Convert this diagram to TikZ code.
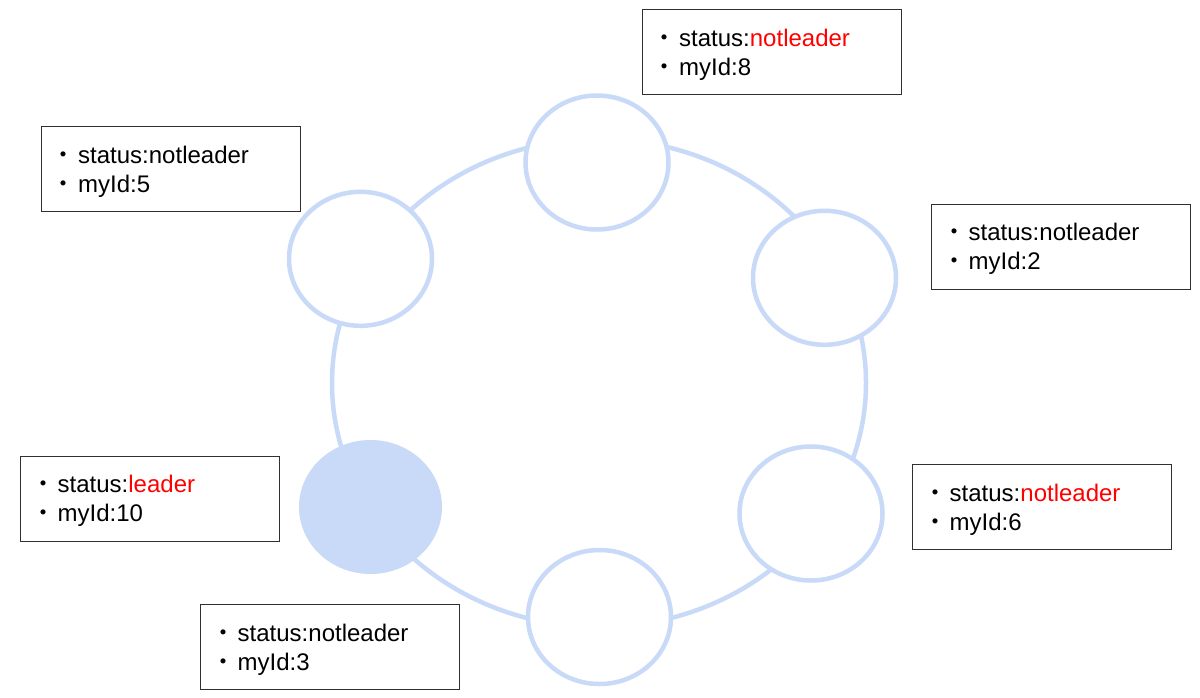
\documentclass[tikz,border=0pt]{standalone}
\usepackage{fontspec}
\setmainfont{Liberation Sans}
\newfontfamily\cjkfont{Noto Sans CJK JP}
\usetikzlibrary{shapes.geometric}
\definecolor{ringblue}{HTML}{C9DAF8}
\definecolor{hlred}{HTML}{FF0000}
\definecolor{boxline}{HTML}{303030}
\newcommand\bul{{\cjkfont ・}\kern2.5pt}
\tikzset{
  ring/.style={draw=ringblue, line width=4.5pt},
  member/.style={ellipse, draw=ringblue, line width=4.5pt, fill=white,
    minimum width=143pt, minimum height=134pt, inner sep=0pt},
  leadernode/.style={ellipse, fill=ringblue, draw=none,
    minimum width=143pt, minimum height=134pt, inner sep=0pt},
  infobox/.style={draw=boxline, line width=1.3pt, anchor=north west,
    minimum width=259pt, minimum height=85pt, inner sep=0pt},
  infotext/.style={anchor=base west, inner sep=0pt,
    font=\fontsize{24}{29}\selectfont, text=black},
}
\newcommand\infobox[5]{%
  \node[infobox] (#1) at (#2,#3) {};
  \node[infotext] (#1a) at ([xshift=11pt,yshift=-37pt]#1.north west) {\bul status:#4};
  \node[infotext] (#1b) at ([xshift=11pt,yshift=-66pt]#1.north west) {\bul myId:#5};
}
\begin{document}
\begin{tikzpicture}[x=1pt,y=-1pt]
\useasboundingbox (0,0) rectangle (1200,697);
\fill[white] (0,0) rectangle (1200,697);
% ring
\coordinate (c) at (599,383);
\draw[ring] (c) ellipse [x radius=267pt, y radius=244pt];
% members
\node[member] (n8) at (597,162.5) {};
\node[member] (n2) at (824.5,277.8) {};
\node[member] (n6) at (811,513.5) {};
\node[member] (n3) at (599.5,617) {};
\node[leadernode] (n10) at (370.5,507) {};
\node[member] (n5) at (360.5,258.8) {};
% info boxes
\infobox{b8}{641.5}{9}{\textcolor{hlred}{notleader}}{8}
\infobox{b5}{40.5}{126}{notleader}{5}
\infobox{b2}{931}{203.5}{notleader}{2}
\infobox{b10}{20}{455.5}{\textcolor{hlred}{leader}}{10}
\infobox{b6}{912}{464}{\textcolor{hlred}{notleader}}{6}
\infobox{b3}{200}{604}{notleader}{3}
\end{tikzpicture}
\end{document}
